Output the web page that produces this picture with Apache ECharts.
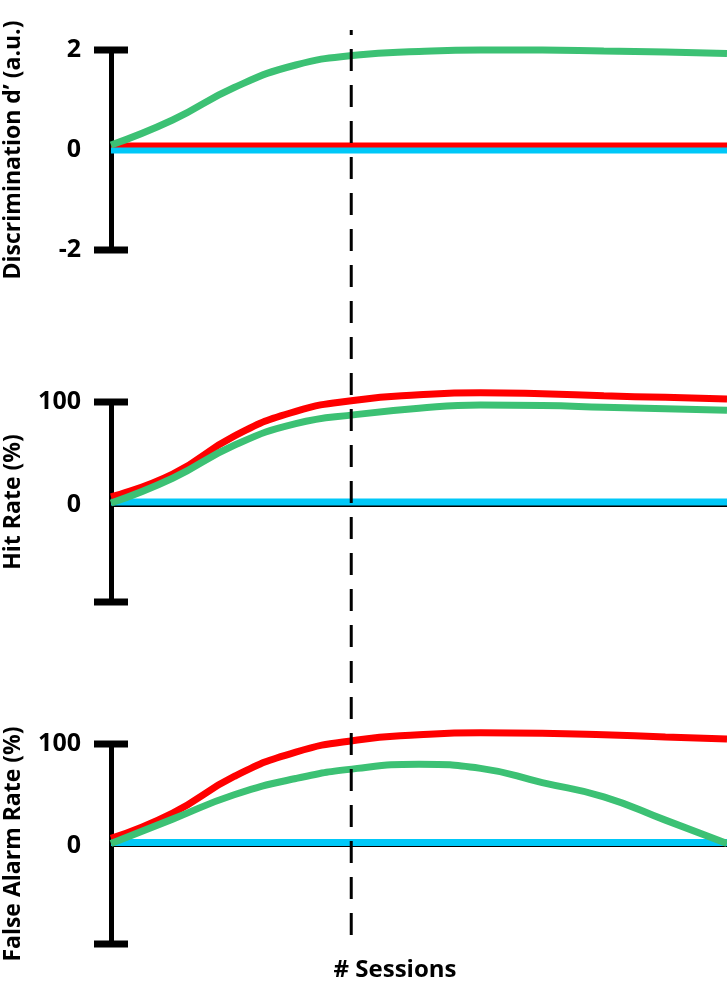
<!DOCTYPE html>
<html><head><meta charset="utf-8">
<script src="https://cdn.jsdelivr.net/npm/echarts@6/dist/echarts.min.js"></script>
<style>html,body{margin:0;padding:0;background:#fff}#c{width:727px;height:983px}</style>
</head><body><div id="c"></div>
<script>
const t = [0, 0.1, 0.2, 0.3, 0.4, 0.5, 0.6, 0.7, 0.8, 0.9, 1];
const dGreen = [0.1, 0.6, 1.25, 1.7, 1.9, 1.97, 2.0, 2.0, 1.98, 1.96, 1.93];
const dRed = [0.1, 0.1, 0.1, 0.1, 0.1, 0.1, 0.1, 0.1, 0.1, 0.1, 0.1];
const dCyan = [0, 0, 0, 0, 0, 0, 0, 0, 0, 0, 0];
const hRed = [8, 30, 67, 91, 102, 107, 109, 108, 106, 104.5, 103];
const hGreen = [2, 26, 58, 79, 88, 94, 97, 96.5, 95, 93.5, 92];
const hCyan = [3, 3, 3, 3, 3, 3, 3, 3, 3, 3, 3];
const fRed = [7, 32, 68, 92, 104, 109, 111, 110.5, 109, 107, 105];
const fGreen = [2, 26, 50, 66, 76, 80, 76, 62, 48, 25, 2];
const fCyan = [3, 3, 3, 3, 3, 3, 3, 3, 3, 3, 3];
const sessionMark = 0.39;
const names = ["Discrimination d\u2019 (a.u.)", "Hit Rate (%)", "False Alarm Rate (%)"];
const ticks = [[-2, 0, 2], [0, 100], [0, 100]];
const ranges = [[-2, 2], [-94, 100], [-97, 100]];

const C = {green: '#3cc174', red: '#ff0000', cyan: '#00c8f8'};
const pair = (ys) => t.map((x, i) => [x, ys[i]]);
const g = (o) => Object.assign({left: 111, right: 0, outerBoundsMode: 'none', containLabel: false}, o);
const grids = [g({top: 50, height: 200}), g({top: 402, height: 200}), g({top: 744, height: 200}), g({top: 30, bottom: 48})];
const xAxis = [0, 1, 2].map(i => ({
  type: 'value', gridIndex: i, min: 0, max: 1, show: true,
  axisLine: {show: i > 0, onZero: true, lineStyle: {color: '#000', width: 3}},
  axisTick: {show: false}, axisLabel: {show: false}, splitLine: {show: false}
}));
xAxis.push({type: 'value', gridIndex: 3, min: 0, max: 1, show: false});
const yAxis = [0, 1, 2].map(i => ({
  type: 'value', gridIndex: i, min: ranges[i][0], max: ranges[i][1],
  name: names[i], nameLocation: 'middle', nameGap: 86,
  nameTextStyle: {fontFamily: 'Open Sans', fontWeight: 'bold', fontSize: 23, color: '#000'},
  axisLine: {show: true, lineStyle: {color: '#000', width: 5}, symbol: ['rect', 'rect'], symbolSize: [34, 7]},
  axisTick: {show: false},
  axisLabel: {customValues: ticks[i], margin: 30, fontFamily: 'Liberation Sans Narrow, Open Sans', fontWeight: 'bold', fontSize: 25, color: '#000'},
  splitLine: {show: false}
}));
yAxis.push({type: 'value', gridIndex: 3, min: 0, max: 1, show: false});
const mk = (data, color, i, w) => ({type: 'line', xAxisIndex: i, yAxisIndex: i, data: pair(data), smooth: 0.5, clip: false, symbol: 'none', lineStyle: {color, width: w || 7}, z: 3});
const series = [
  mk(dCyan, C.cyan, 0), mk(dRed, C.red, 0, 5), mk(dGreen, C.green, 0),
  mk(hCyan, C.cyan, 1), mk(hRed, C.red, 1), mk(hGreen, C.green, 1),
  mk(fCyan, C.cyan, 2), mk(fRed, C.red, 2), mk(fGreen, C.green, 2),
  {type: 'line', xAxisIndex: 3, yAxisIndex: 3, data: [[sessionMark, 0], [sessionMark, 1]], symbol: 'none',
   lineStyle: {color: '#000', width: 3, type: [22, 14]}, z: 5}
];
const chart = echarts.init(document.getElementById('c'));
chart.setOption({
  animation: false,
  title: {text: '# Sessions', left: 390, top: 953, textAlign: 'center',
    textStyle: {fontFamily: 'Liberation Sans Narrow, Open Sans', fontWeight: 'bold', fontSize: 24, color: '#000'}},
  grid: grids, xAxis, yAxis, series
});
</script></body></html>
